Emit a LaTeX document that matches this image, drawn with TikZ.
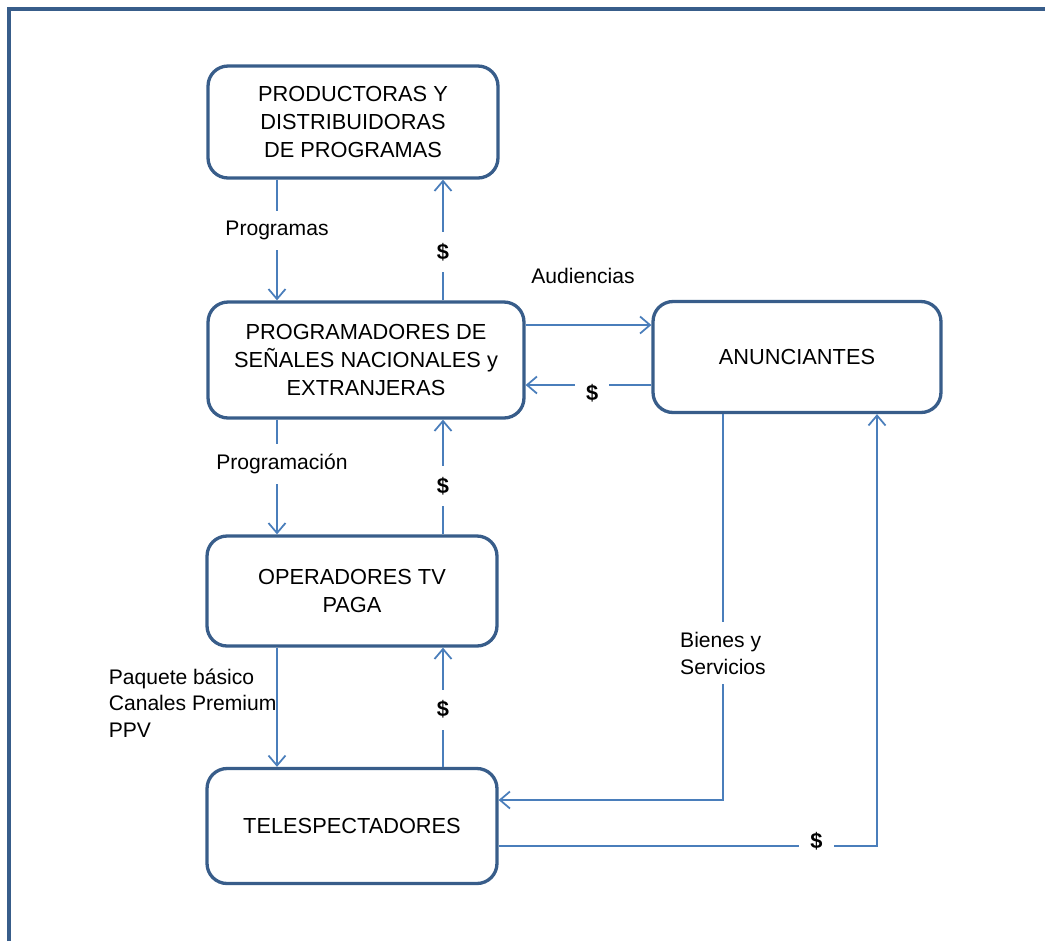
\documentclass[tikz,border=0pt]{standalone}
\usepackage{fontspec}
\setmainfont{Liberation Sans}
\usetikzlibrary{arrows.meta}

\definecolor{boxblue}{RGB}{56,93,138}
\definecolor{lineblue}{RGB}{74,126,187}

\begin{document}
\begin{tikzpicture}[x=0.02cm,y=-0.02cm,
    box/.style={draw=boxblue, line width=0.066cm, rounded corners=0.4cm,
      minimum width=5.8cm, minimum height=2.24cm, align=center,
      font=\fontsize{12.4}{15.9}\selectfont},
    flow/.style={draw=lineblue, line width=0.035cm,
      -{Straight Barb[length=0.2cm,width=0.34cm]}},
    lbl/.style={font=\fontsize{12}{15.2}\selectfont, inner sep=0.05cm},
    gap/.style={fill=white, inner xsep=0.1cm, inner ysep=0.2cm},
    dollar/.style={fill=white, inner sep=0.22cm, font=\fontsize{12.4}{14}\selectfont\bfseries}]

  % Page and frame
  \useasboundingbox (0,0) rectangle (1045,941);
  \draw [line width=0.09cm, boxblue] (9,941) -- (9,9) -- (1045,9);

  % Boxes
  \node[box] (prod) at (353,122) {PRODUCTORAS Y\\DISTRIBUIDORAS\\DE PROGRAMAS};
  \node[box, minimum width=6.32cm, minimum height=2.32cm] (prog) at (366,360)
    {PROGRAMADORES DE\\SEÑALES NACIONALES y\\EXTRANJERAS};
  \node[box, minimum width=5.76cm, minimum height=2.22cm] (anun) at (797,357) {ANUNCIANTES};
  \node[box, minimum height=2.2cm] (oper) at (352,591) {OPERADORES TV\\PAGA};
  \node[box, minimum height=2.3cm] (tele) at (352,826) {TELESPECTADORES};

  % Columns and rows of the connectors
  \coordinate (c1) at (277,0);
  \coordinate (c2) at (443,0);
  \coordinate (c3) at (723,0);
  \coordinate (c4) at (877,0);
  \coordinate (r1) at (0,325);
  \coordinate (r2) at (0,385);
  \coordinate (r3) at (0,800);
  \coordinate (r4) at (0,846);

  % Productoras <-> programadores
  \draw[flow] (prod.south -| c1) -- node[lbl, gap, pos=0.42] {Programas} (prog.north -| c1);
  \draw[flow] (prog.north -| c2) -- node[dollar, pos=0.40] {\$} (prod.south -| c2);

  % Programadores <-> anunciantes
  \draw[flow] (prog.east |- r1) -- (anun.west |- r1);
  \node[lbl] (aud) at (583,276) {Audiencias};
  \draw[flow] (anun.west |- r2) -- node[dollar, pos=0.47, yshift=-0.16cm] {\$} (prog.east |- r2);

  % Programadores <-> operadores
  \draw[flow] (prog.south -| c1) -- node[lbl, gap, pos=0.39, xshift=0.1cm] {Programación} (oper.north -| c1);
  \draw[flow] (oper.north -| c2) -- node[dollar, pos=0.42] {\$} (prog.south -| c2);

  % Operadores <-> telespectadores
  \draw[flow] (oper.south -| c1) -- (tele.north -| c1);
  \node[lbl, align=left, anchor=west] (paq) at (106,703)
    {Paquete básico\\Canales Premium\\PPV};
  \draw[flow] (tele.north -| c2) -- node[dollar, pos=0.48] {\$} (oper.south -| c2);

  % Anunciantes <-> telespectadores
  \draw[flow] (anun.south -| c3) |- node[lbl, gap, align=left, pos=0.31] {Bienes y\\Servicios} (tele.east |- r3);
  \draw[flow] (tele.east |- r4) -| node[dollar, pos=0.42, yshift=0.1cm] {\$} (anun.south -| c4);
\end{tikzpicture}
\end{document}
